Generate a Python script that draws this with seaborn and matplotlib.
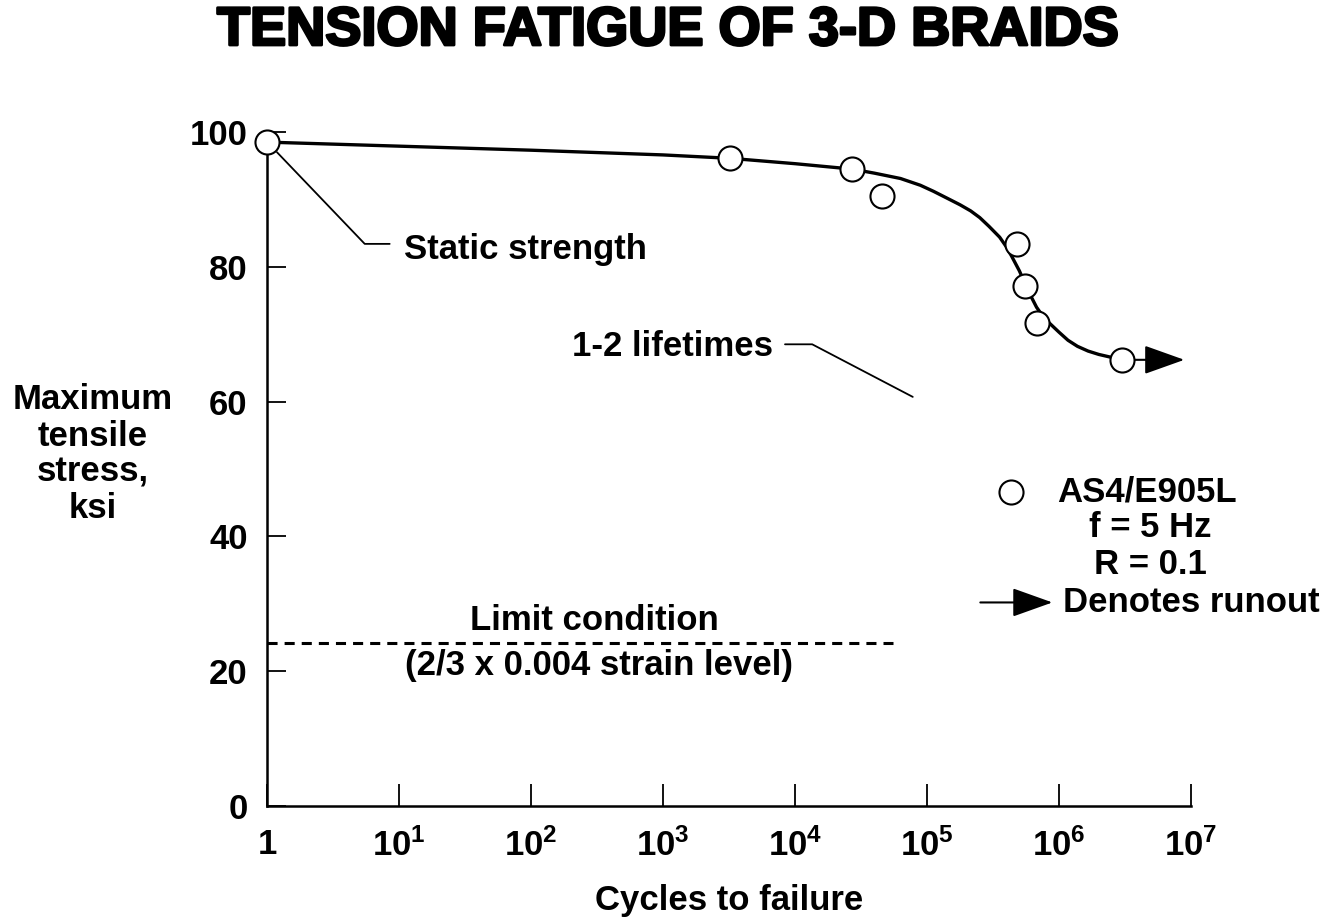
import numpy as np
import pandas as pd
import seaborn as sns
import matplotlib
matplotlib.use('Agg')
import matplotlib.pyplot as plt
import matplotlib.patheffects as pe

# test points (cycles, ksi)
cycles = [1, 3.2e3, 2.7e4, 4.6e4, 4.8e5, 5.5e5, 6.8e5, 3.0e6]
stress = [98.5, 96.1, 94.5, 90.5, 83.4, 77.2, 71.7, 66.2]

# fitted S-N curve, read point by point
curve_cycles = [1, 10, 1e2, 1e3, 3.2e3, 1e4, 2.7e4, 3.98e4, 6.3e4, 8.9e4, 1.12e5,
                1.48e5, 1.78e5, 2.14e5, 2.51e5, 2.95e5, 3.55e5, 3.98e5, 4.37e5,
                5.01e5, 5.5e5, 6.03e5, 6.76e5, 7.59e5, 8.51e5, 1e6, 1.17e6,
                1.38e6, 1.66e6, 2.0e6, 2.45e6, 3.0e6]
curve_stress = [98.5, 97.9, 97.3, 96.6, 96.1, 95.3, 94.5, 93.9, 93.1, 92.1, 91.2,
                90.0, 89.2, 88.3, 87.3, 86.0, 84.4, 83.0, 81.6,
                79.4, 77.6, 75.9, 74.0, 72.6, 71.6, 70.3, 69.1,
                68.2, 67.5, 67.0, 66.6, 66.2]

runout_end = 8.9e6
limit_stress = 24.2
limit_end = 5.5e4

x_ticks = [1, 10, 1e2, 1e3, 1e4, 1e5, 1e6, 1e7]
x_labels = ['1', '$10^1$', '$10^2$', '$10^3$', '$10^4$', '$10^5$', '$10^6$', '$10^7$']
y_ticks = [0, 20, 40, 60, 80, 100]

sns.set_style('white')
plt.rcParams['font.family'] = ['Liberation Sans', 'DejaVu Sans']
plt.rcParams['font.weight'] = 'bold'
plt.rcParams['text.color'] = 'black'
plt.rcParams['axes.labelcolor'] = 'black'
plt.rcParams['xtick.color'] = 'black'
plt.rcParams['ytick.color'] = 'black'
plt.rcParams['mathtext.fontset'] = 'custom'
plt.rcParams['mathtext.rm'] = 'Liberation Sans:bold'
plt.rcParams['mathtext.it'] = 'Liberation Sans:bold'
plt.rcParams['mathtext.bf'] = 'Liberation Sans:bold'

fig = plt.figure(figsize=(13.35, 9.21), dpi=100)
ax = fig.add_axes([267 / 1335, 1 - 806 / 921, 924 / 1335, 674 / 921])

courbe = pd.DataFrame({'cycles': curve_cycles, 'stress': curve_stress})
points = pd.DataFrame({'cycles': cycles, 'stress': stress})

sns.lineplot(data=courbe, x='cycles', y='stress', ax=ax, color='black',
             linewidth=2.4, sort=False, estimator=None, zorder=2)
sns.scatterplot(data=points, x='cycles', y='stress', ax=ax, s=300,
                facecolor='white', edgecolor='black', linewidth=1.5, zorder=4)
for c in ax.collections:
    c.set_clip_on(False)

# runout arrow
ax.annotate('', xy=(runout_end, stress[-1]), xytext=(cycles[-1], stress[-1]),
            arrowprops=dict(arrowstyle='-|>,head_length=1.4,head_width=0.5',
                            color='black', lw=1.5, shrinkA=9, shrinkB=0,
                            mutation_scale=18))

# limit condition
ax.plot([1, limit_end], [limit_stress, limit_stress], color='black',
        linestyle=(0, (3.3, 2.3)), linewidth=2.2)

ax.set_xscale('log')
ax.set_xlim(1, 1e7)
ax.set_ylim(0, 100)
ax.set_xticks(x_ticks)
ax.set_xticklabels(x_labels)
ax.set_yticks(y_ticks)
ax.minorticks_off()
ax.tick_params(axis='y', left=True, direction='in', length=14, width=1.3, pad=14,
               labelsize=25)
ax.tick_params(axis='x', bottom=True, direction='in', length=16, width=1.3, pad=16,
               labelsize=25)
ax.tick_params(axis='x', which='minor', bottom=False)
for s in ['top', 'right']:
    ax.spines[s].set_visible(False)
for s in ['left', 'bottom']:
    ax.spines[s].set_linewidth(1.8)
    ax.spines[s].set_color('black')

ax.set_xlabel('Cycles to failure', fontsize=25, fontweight='bold', labelpad=15)
ax.set_ylabel('Maximum\ntensile\nstress,\nksi', fontsize=25, fontweight='bold',
              rotation=0, ha='center', va='center', linespacing=1.12)
ax.yaxis.set_label_coords(-0.189, 0.522)

# annotations
ax.plot([1.19, 5.5, 8.5], [97.0, 83.4, 83.4], color='black', linewidth=1.3, zorder=3)
ax.text(11, 82.6, 'Static strength', fontsize=25, fontweight='bold', va='center')
ax.plot([8.4e3, 1.35e4, 7.8e4], [68.5, 68.5, 60.7], color='black', linewidth=1.3)
ax.text(6.8e3, 68.2, '1-2 lifetimes', fontsize=25, fontweight='bold',
        va='center', ha='right')
ax.text(300, 27.5, 'Limit condition', fontsize=25, fontweight='bold',
        ha='center', va='center')
ax.text(330, 20.8, '(2/3 x 0.004 strain level)', fontsize=25, fontweight='bold',
        ha='center', va='center')

# key
ax.scatter([0.805], [0.466], s=300, facecolor='white', edgecolor='black',
           linewidth=1.5, transform=ax.transAxes, clip_on=False)
ax.text(0.855, 0.466, 'AS4/E905L', transform=ax.transAxes, fontsize=25,
        fontweight='bold', va='center')
ax.text(0.89, 0.413, 'f = 5 Hz', transform=ax.transAxes, fontsize=25,
        fontweight='bold', va='center')
ax.text(0.895, 0.358, 'R = 0.1', transform=ax.transAxes, fontsize=25,
        fontweight='bold', va='center')
ax.annotate('', xy=(0.85, 0.302), xytext=(0.772, 0.302), xycoords='axes fraction',
            textcoords='axes fraction',
            arrowprops=dict(arrowstyle='-|>,head_length=1.4,head_width=0.5',
                            color='black', lw=1.5, shrinkA=0, shrinkB=0,
                            mutation_scale=18))
ax.text(0.862, 0.302, 'Denotes runout', transform=ax.transAxes, fontsize=25,
        fontweight='bold', va='center')

fig.text(0.5, 1 - 31 / 921, 'TENSION FATIGUE OF 3-D BRAIDS', fontsize=39,
         fontweight='bold', ha='center', va='center', color='black',
         path_effects=[pe.withStroke(linewidth=2, foreground='black')])

plt.savefig('out.png', dpi=100)
